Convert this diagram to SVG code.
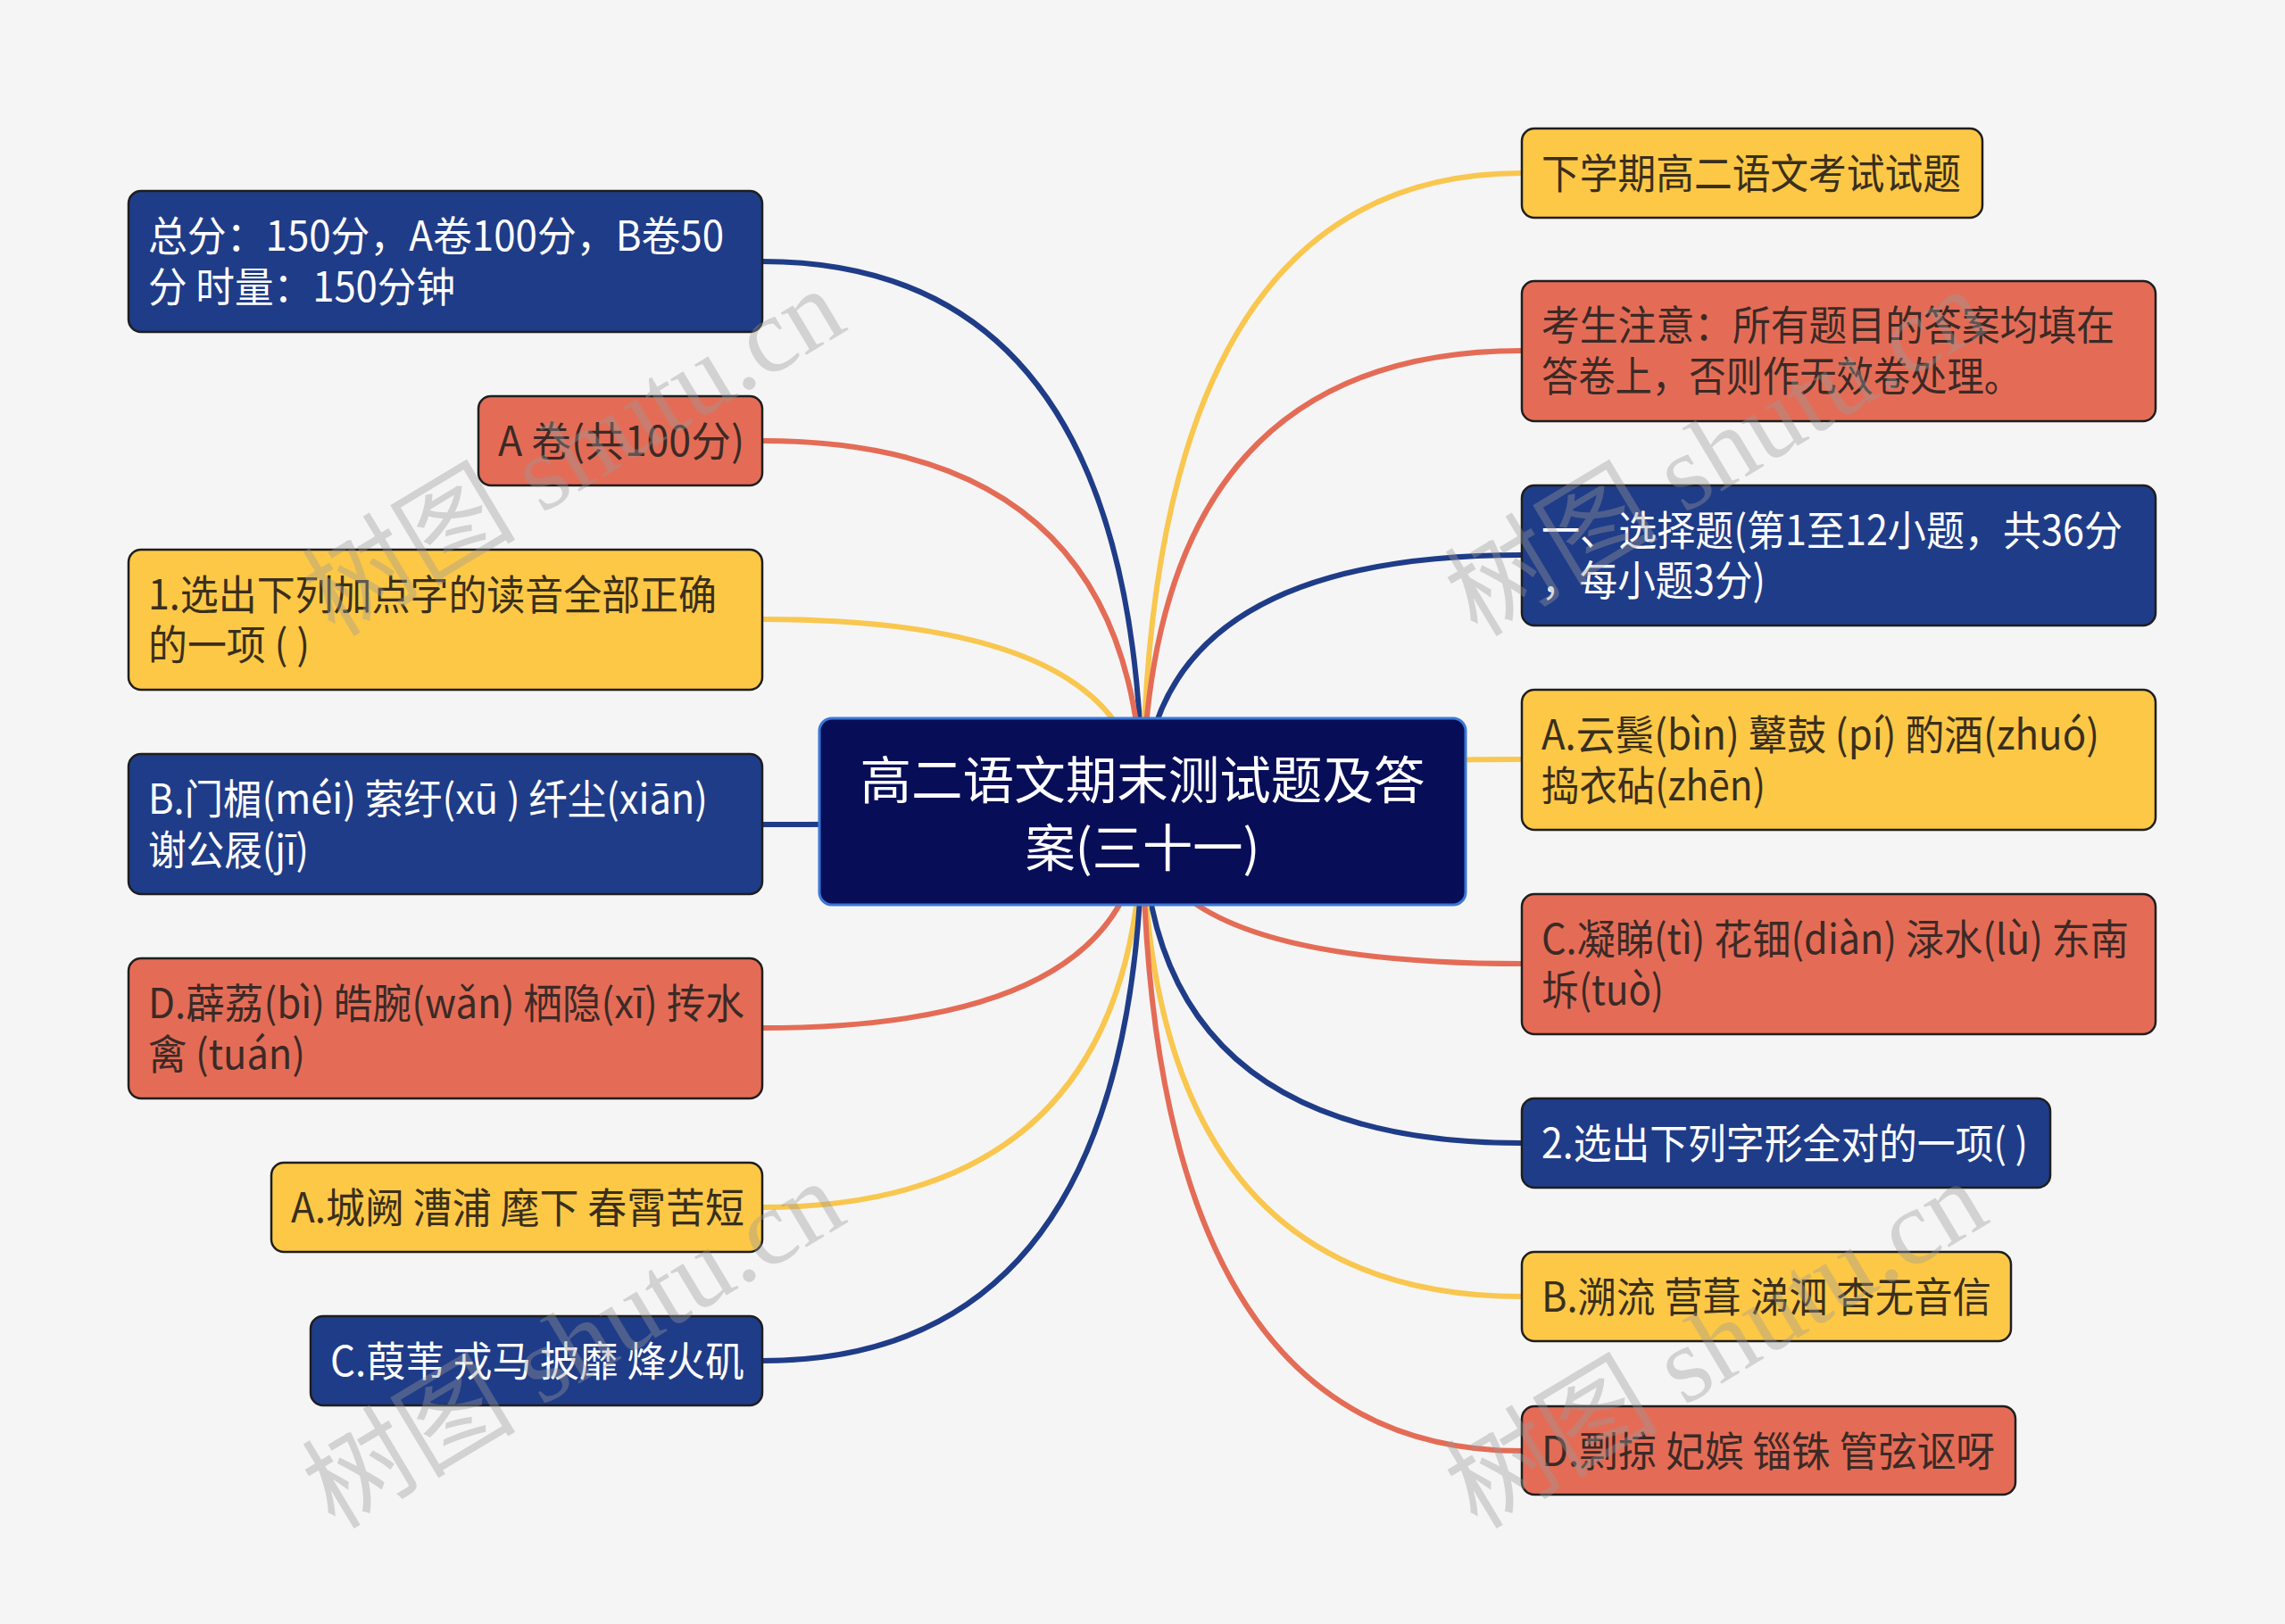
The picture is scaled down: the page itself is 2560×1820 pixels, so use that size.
<svg xmlns="http://www.w3.org/2000/svg" width="2560" height="1820" viewBox="0 0 2560 1820">
<style>
.bg{fill:#f5f5f5}
.n{stroke:#1e1e1e;stroke-width:2.5}
.blue{fill:#1f3c88}
.red{fill:#e46c56}
.yel{fill:#fdc846}
.t{font-family:"Noto Sans CJK SC","Liberation Sans",sans-serif;font-size:46px;dominant-baseline:central}
.tw{fill:#ffffff}
.tr{fill:#3b2a26}
.ty{fill:#3a2f1d}
.c{fill:none;stroke-width:6;stroke-linecap:round}
.cb{stroke:#1f3c88}
.cr{stroke:#e46c56}
.cy{stroke:#f9c74f}
.wm{font-family:"Liberation Serif","Noto Sans CJK SC",serif;font-size:120px;fill:#9a9a9a;opacity:0.38}
</style>
<rect class="bg" x="0" y="0" width="2560" height="1820"/>
<g id="connectors">
<path class="c cb" d="M1280 909 Q1280 293 854 293"/>
<path class="c cr" d="M1280 909 Q1280 494 854 494"/>
<path class="c cy" d="M1280 909 Q1280 694 854 694"/>
<path class="c cb" d="M1280 909 Q1280 924 854 924"/>
<path class="c cr" d="M1280 909 Q1280 1152 854 1152"/>
<path class="c cy" d="M1280 909 Q1280 1353 854 1353"/>
<path class="c cb" d="M1280 909 Q1280 1525 854 1525"/>
<path class="c cy" d="M1280 909 Q1280 194 1705 194"/>
<path class="c cr" d="M1280 909 Q1280 393 1705 393"/>
<path class="c cb" d="M1280 909 Q1280 622 1705 622"/>
<path class="c cy" d="M1280 909 Q1280 851 1705 851"/>
<path class="c cr" d="M1280 909 Q1280 1080 1705 1080"/>
<path class="c cb" d="M1280 909 Q1280 1281 1705 1281"/>
<path class="c cy" d="M1280 909 Q1280 1453 1705 1453"/>
<path class="c cr" d="M1280 909 Q1280 1626 1705 1626"/>
</g>
<g id="center">
<rect x="918" y="805" width="724" height="209" rx="14" fill="#070d57" stroke="#3a78d8" stroke-width="3"/>
<text class="t tw" x="1280" y="870" text-anchor="middle" style="font-size:57px" textLength="633" lengthAdjust="spacingAndGlyphs">高二语文期末测试题及答</text>
<text class="t tw" x="1280" y="946" text-anchor="middle" style="font-size:57px" textLength="263" lengthAdjust="spacingAndGlyphs">案(三十一)</text>
</g>
<g id="L1">
<rect class="n blue" x="144" y="214" width="710" height="158" rx="14"/>
<text class="t tw" x="166" y="261" textLength="645" lengthAdjust="spacingAndGlyphs">总分：150分，A卷100分，B卷50</text>
<text class="t tw" x="166" y="318" textLength="344" lengthAdjust="spacingAndGlyphs">分 时量：150分钟</text>
</g>
<g id="L2">
<rect class="n red" x="536" y="444" width="318" height="100" rx="14"/>
<text class="t tr" x="558" y="491" textLength="276" lengthAdjust="spacingAndGlyphs">A 卷(共100分)</text>
</g>
<g id="L3">
<rect class="n yel" x="144" y="616" width="710" height="157" rx="14"/>
<text class="t ty" x="166" y="663" textLength="637" lengthAdjust="spacingAndGlyphs">1.选出下列加点字的读音全部正确</text>
<text class="t ty" x="166" y="719" textLength="181" lengthAdjust="spacingAndGlyphs">的一项 ( )</text>
</g>
<g id="L4">
<rect class="n blue" x="144" y="845" width="710" height="157" rx="14"/>
<text class="t tw" x="166" y="892" textLength="627" lengthAdjust="spacingAndGlyphs">B.门楣(méi) 萦纡(xū ) 纤尘(xiān)</text>
<text class="t tw" x="166" y="949" textLength="180" lengthAdjust="spacingAndGlyphs">谢公屐(jī)</text>
</g>
<g id="L5">
<rect class="n red" x="144" y="1074" width="710" height="157" rx="14"/>
<text class="t tr" x="166" y="1121" textLength="668" lengthAdjust="spacingAndGlyphs">D.薜荔(bì) 皓腕(wǎn) 栖隐(xī) 抟水</text>
<text class="t tr" x="166" y="1178" textLength="176" lengthAdjust="spacingAndGlyphs">禽 (tuán)</text>
</g>
<g id="L6">
<rect class="n yel" x="304" y="1303" width="550" height="100" rx="14"/>
<text class="t ty" x="326" y="1350" textLength="508" lengthAdjust="spacingAndGlyphs">A.城阙 漕浦 麾下 春霄苦短</text>
</g>
<g id="L7">
<rect class="n blue" x="348" y="1475" width="506" height="100" rx="14"/>
<text class="t tw" x="370" y="1522" textLength="464" lengthAdjust="spacingAndGlyphs">C.葭苇 戎马 披靡 烽火矶</text>
</g>
<g id="R1">
<rect class="n yel" x="1705" y="144" width="516" height="100" rx="14"/>
<text class="t ty" x="1727" y="191" textLength="470" lengthAdjust="spacingAndGlyphs">下学期高二语文考试试题</text>
</g>
<g id="R2">
<rect class="n red" x="1705" y="315" width="710" height="157" rx="14"/>
<text class="t tr" x="1727" y="361" textLength="642" lengthAdjust="spacingAndGlyphs">考生注意：所有题目的答案均填在</text>
<text class="t tr" x="1727" y="418" textLength="537" lengthAdjust="spacingAndGlyphs">答卷上，否则作无效卷处理。</text>
</g>
<g id="R3">
<rect class="n blue" x="1705" y="544" width="710" height="157" rx="14"/>
<text class="t tw" x="1727" y="591" textLength="651" lengthAdjust="spacingAndGlyphs">一、选择题(第1至12小题，共36分</text>
<text class="t tw" x="1727" y="647" textLength="251" lengthAdjust="spacingAndGlyphs">，每小题3分)</text>
</g>
<g id="R4">
<rect class="n yel" x="1705" y="773" width="710" height="157" rx="14"/>
<text class="t ty" x="1727" y="820" textLength="625" lengthAdjust="spacingAndGlyphs">A.云鬓(bìn) 鼙鼓 (pí) 酌酒(zhuó)</text>
<text class="t ty" x="1727" y="877" textLength="251" lengthAdjust="spacingAndGlyphs">捣衣砧(zhēn)</text>
</g>
<g id="R5">
<rect class="n red" x="1705" y="1002" width="710" height="157" rx="14"/>
<text class="t tr" x="1727" y="1049" textLength="658" lengthAdjust="spacingAndGlyphs">C.凝睇(tì) 花钿(diàn) 渌水(lù) 东南</text>
<text class="t tr" x="1727" y="1106" textLength="137" lengthAdjust="spacingAndGlyphs">坼(tuò)</text>
</g>
<g id="R6">
<rect class="n blue" x="1705" y="1231" width="592" height="100" rx="14"/>
<text class="t tw" x="1727" y="1278" textLength="545" lengthAdjust="spacingAndGlyphs">2.选出下列字形全对的一项( )</text>
</g>
<g id="R7">
<rect class="n yel" x="1705" y="1403" width="548" height="100" rx="14"/>
<text class="t ty" x="1727" y="1450" textLength="504" lengthAdjust="spacingAndGlyphs">B.溯流 营葺 涕泗 杳无音信</text>
</g>
<g id="R8">
<rect class="n red" x="1705" y="1576" width="553" height="99" rx="14"/>
<text class="t tr" x="1727" y="1623" textLength="508" lengthAdjust="spacingAndGlyphs">D.剽掠 妃嫔 锱铢 管弦讴呀</text>
</g>
<g id="watermarks">
<text class="wm" transform="translate(375 715) rotate(-31)">树图 shutu.cn</text>
<text class="wm" transform="translate(1655 715) rotate(-31)">树图 shutu.cn</text>
<text class="wm" transform="translate(375 1715) rotate(-31)">树图 shutu.cn</text>
<text class="wm" transform="translate(1655 1715) rotate(-31)">树图 shutu.cn</text>
</g>
</svg>
